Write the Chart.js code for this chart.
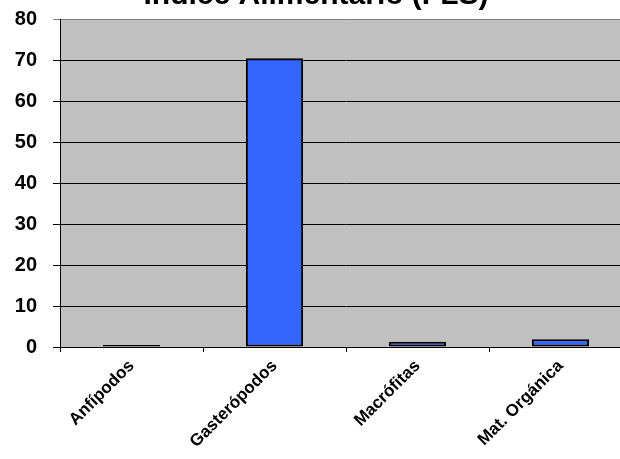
<!DOCTYPE html>
<html>
<head>
<meta charset="utf-8">
<script src="https://cdn.jsdelivr.net/npm/chart.js@4/dist/chart.umd.min.js"></script>
<style>
  html, body { margin: 0; padding: 0; background: #fff; overflow: hidden; width: 620px; height: 459px; }
  #wrap { position: absolute; left: 0; top: -19px; width: 640px; height: 478px; }
</style>
</head>
<body>
<div id="wrap"><canvas id="chart" width="640" height="478"></canvas></div>
<script>
// data
const categories = ['Anfípodos', 'Gasterópodos', 'Macrófitas', 'Mat. Orgánica'];
const values = [0.5, 70.4, 1.3, 1.9];
const yTicks = [0, 10, 20, 30, 40, 50, 60, 70, 80];

// grey plot background
const plotBg = {
  id: 'plotBg',
  beforeDraw(chart) {
    const a = chart.chartArea;
    const c = chart.ctx;
    c.save();
    c.fillStyle = '#c0c0c0';
    c.fillRect(a.left, a.top, a.right - a.left, a.bottom - a.top);
    c.restore();
  }
};

const ctx = document.getElementById('chart').getContext('2d');
const chart = new Chart(ctx, {
  type: 'bar',
  data: {
    labels: categories,
    datasets: [{
      data: values,
      backgroundColor: '#3366ff',
      borderColor: '#000',
      borderWidth: 2,
      borderSkipped: false,
      categoryPercentage: 0.4,
      barPercentage: 1
    }]
  },
  options: {
    responsive: false,
    animation: false,
    layout: { padding: { right: 8 } },
    plugins: {
      legend: { display: false },
      tooltip: { enabled: false },
      title: {
        display: true,
        text: 'Indice Alimentario (FLS)',
        color: '#000',
        font: { family: 'Arial, Liberation Sans', size: 30, weight: 'bold' },
        padding: { top: -3, bottom: 5 }
      }
    },
    scales: {
      x: {
        afterFit(s) { s.height = 112; },
        grid: { display: true, drawOnChartArea: false, color: '#000', tickLength: 5, offset: true },
        border: { color: '#000', width: 1 },
        ticks: {
          color: '#000',
          minRotation: 45,
          maxRotation: 45,
          padding: 4,
          font: { family: 'Arial, Liberation Sans', size: 17, weight: 'bold' }
        }
      },
      y: {
        min: 0,
        max: 80,
        afterFit(s) { s.width = 60; },
        afterBuildTicks(s) { s.ticks = yTicks.map(v => ({ value: v })); },
        grid: {
          color: c => (c.tick && c.tick.value === 80 ? '#808080' : '#000'),
          tickLength: 7
        },
        border: { color: '#000', width: 1 },
        ticks: {
          color: '#000',
          padding: 16,
          font: { family: 'Arial, Liberation Sans', size: 20, weight: 'bold' }
        }
      }
    }
  },
  plugins: [plotBg]
});
</script>
</body>
</html>
